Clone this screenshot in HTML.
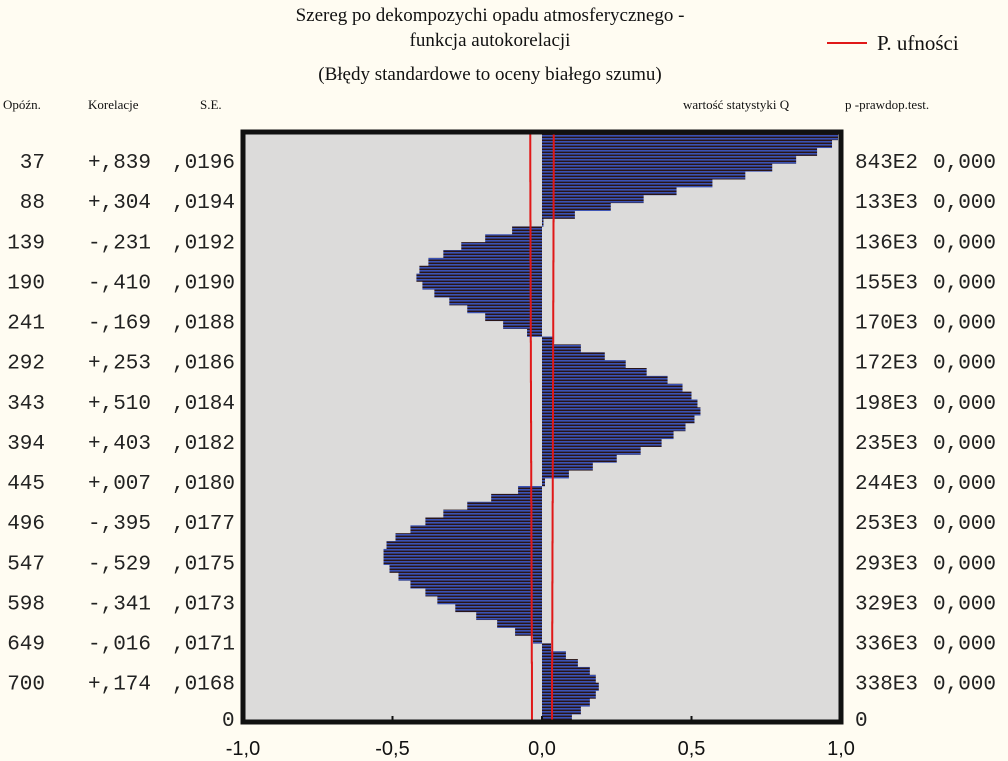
<!DOCTYPE html>
<html><head><meta charset="utf-8"><style>
html,body{margin:0;padding:0;background:#fffcf2;}
svg{display:block;}
.serif{font-family:"Liberation Serif",serif;fill:#111;}
.mono{font-family:"Liberation Mono",monospace;font-size:21px;fill:#222;}
.sans{font-family:"Liberation Sans",sans-serif;font-size:20px;fill:#111;}
</style></head><body>
<svg id="chart" width="1008" height="761" viewBox="0 0 1008 761" xmlns="http://www.w3.org/2000/svg">
<defs>
<pattern id="stripes" patternUnits="userSpaceOnUse" width="4" height="3">
<rect width="4" height="3" fill="#2a1516"/>
<rect width="4" height="1.6" fill="#3a52b4"/>
</pattern>
</defs>
<rect width="1008" height="761" fill="#fffcf2"/>
<text class="serif" x="490" y="21" font-size="19" text-anchor="middle">Szereg po dekompozychi opadu atmosferycznego -</text>
<text class="serif" x="490" y="46" font-size="19" text-anchor="middle">funkcja autokorelacji</text>
<text class="serif" x="490" y="80" font-size="19" text-anchor="middle">(Błędy standardowe to oceny białego szumu)</text>
<g>
<line x1="827" y1="43" x2="867" y2="43" stroke="#e01818" stroke-width="2"/>
<text class="serif" x="877" y="50" font-size="21">P. ufności</text>
</g>
<text class="serif" x="3" y="109" font-size="13">Opóźn.</text>
<text class="serif" x="88" y="109" font-size="13">Korelacje</text>
<text class="serif" x="200" y="109" font-size="13">S.E.</text>
<text class="serif" x="683" y="109" font-size="13">wartość statystyki Q</text>
<text class="serif" x="845" y="109" font-size="13">p -prawdop.test.</text>
<rect x="243" y="132" width="598" height="590" fill="#dcdbda"/>
<g id="bars"></g>
<g id="conf"></g>
<rect x="243" y="132" width="598" height="590" fill="none" stroke="#111" stroke-width="5"/>
<g id="xaxis"></g>
<g id="rows"></g>
<text class="mono" x="222" y="726" font-size="19">0</text>
<text class="mono" x="855" y="726" font-size="19">0</text>
</svg>
<script>
const barLags = [5,15,25,35,45,55,65,75,85,95,105,115,125,135,145,155,165,175,185,195,205,215,225,235,245,255,265,275,285,295,305,315,325,335,345,355,365,375,385,395,405,415,425,435,445,455,465,475,485,495,505,515,525,535,545,555,565,575,585,595,605,615,625,635,645,655,665,675,685,695,705,715,725,735,745];
const barValues = [0.99,0.97,0.92,0.85,0.77,0.68,0.57,0.45,0.34,0.23,0.11,0.00,-0.10,-0.19,-0.27,-0.33,-0.38,-0.41,-0.42,-0.40,-0.36,-0.31,-0.25,-0.19,-0.13,-0.05,0.04,0.13,0.21,0.28,0.35,0.42,0.47,0.50,0.52,0.53,0.51,0.48,0.44,0.40,0.33,0.25,0.17,0.09,0.01,-0.08,-0.17,-0.25,-0.33,-0.39,-0.44,-0.49,-0.52,-0.53,-0.53,-0.51,-0.48,-0.44,-0.39,-0.35,-0.29,-0.22,-0.15,-0.09,-0.03,0.03,0.08,0.12,0.16,0.18,0.19,0.18,0.16,0.13,0.10];
const rowLags = [37,88,139,190,241,292,343,394,445,496,547,598,649,700];
const rowCorr = ["+,839","+,304","-,231","-,410","-,169","+,253","+,510","+,403","+,007","-,395","-,529","-,341","-,016","+,174"];
const rowSE = [0.0196,0.0194,0.0192,0.0190,0.0188,0.0186,0.0184,0.0182,0.0180,0.0177,0.0175,0.0173,0.0171,0.0168];
const rowSEText = [",0196",",0194",",0192",",0190",",0188",",0186",",0184",",0182",",0180",",0177",",0175",",0173",",0171",",0168"];
const rowQ = ["843E2","133E3","136E3","155E3","170E3","172E3","198E3","235E3","244E3","253E3","293E3","329E3","336E3","338E3"];
const rowP = ["0,000","0,000","0,000","0,000","0,000","0,000","0,000","0,000","0,000","0,000","0,000","0,000","0,000","0,000"];
const xTicks = [-1,-0.5,0,0.5,1];
const xTickLabels = ["-1,0","-0,5","0,0","0,5","1,0"];

const NS = "http://www.w3.org/2000/svg";
const X0 = 243, X1 = 841, Y0 = 132, Y1 = 722, LAGMAX = 750;
const xs = v => X0 + (v + 1) / 2 * (X1 - X0);
const ys = lag => Y0 + lag / LAGMAX * (Y1 - Y0);
function mk(tag, attrs, parent){ const e=document.createElementNS(NS,tag); for(const k in attrs) e.setAttribute(k,attrs[k]); parent.appendChild(e); return e; }

const bars = document.getElementById('bars');
const step = (Y1 - Y0) / LAGMAX * 10;
barValues.forEach((v,i)=>{
  const yc = ys(barLags[i]);
  const x = Math.min(xs(0), xs(v)), w = Math.abs(xs(v)-xs(0));
  const r = mk('rect',{x:x,y:yc-step/2,width:Math.max(w,1.5),height:step+0.3,fill:'url(#stripes)'},bars);
  
  
});
const conf = document.getElementById('conf');
let dl = "", dr = "";
rowSE.forEach((se,i)=>{
  const ya = i===0 ? Y0+2 : ys((rowLags[i-1]+rowLags[i])/2);
  const yb = i===rowSE.length-1 ? Y1-2 : ys((rowLags[i]+rowLags[i+1])/2);
  dl += (i===0?"M":"L")+xs(-2*se)+" "+ya+" L"+xs(-2*se)+" "+yb+" ";
  dr += (i===0?"M":"L")+xs(2*se)+" "+ya+" L"+xs(2*se)+" "+yb+" ";
});
const pl = mk('path',{d:dl,fill:'none',stroke:'#e01818','stroke-width':2},conf);


const pr = mk('path',{d:dr,fill:'none',stroke:'#e01818','stroke-width':2},conf);



const xa = document.getElementById('xaxis');
xTicks.forEach((t,i)=>{
  const tk = mk('line',{x1:xs(t),y1:Y1-6,x2:xs(t),y2:Y1,stroke:'#111','stroke-width':2},xa);
  
  
  const tl = mk('text',{x:xs(t),y:755,'text-anchor':'middle',class:'sans'},xa);
  tl.textContent = xTickLabels[i];
  
  
});
const rows = document.getElementById('rows');
rowLags.forEach((lag,i)=>{
  const y = ys(lag)+7;
  const items = [[String(lag),45,'end','row-lag'],[rowCorr[i],88,'start','row-correlation'],[rowSEText[i],172,'start','row-se'],[rowQ[i],855,'start','row-q-stat'],[rowP[i],933,'start','row-p-value']];
  items.forEach(it=>{
    const t = mk('text',{x:it[1],y:y,'text-anchor':it[2],class:'mono'},rows);
    t.textContent = it[0];
    
    
  });
});
</script>
</body></html>
